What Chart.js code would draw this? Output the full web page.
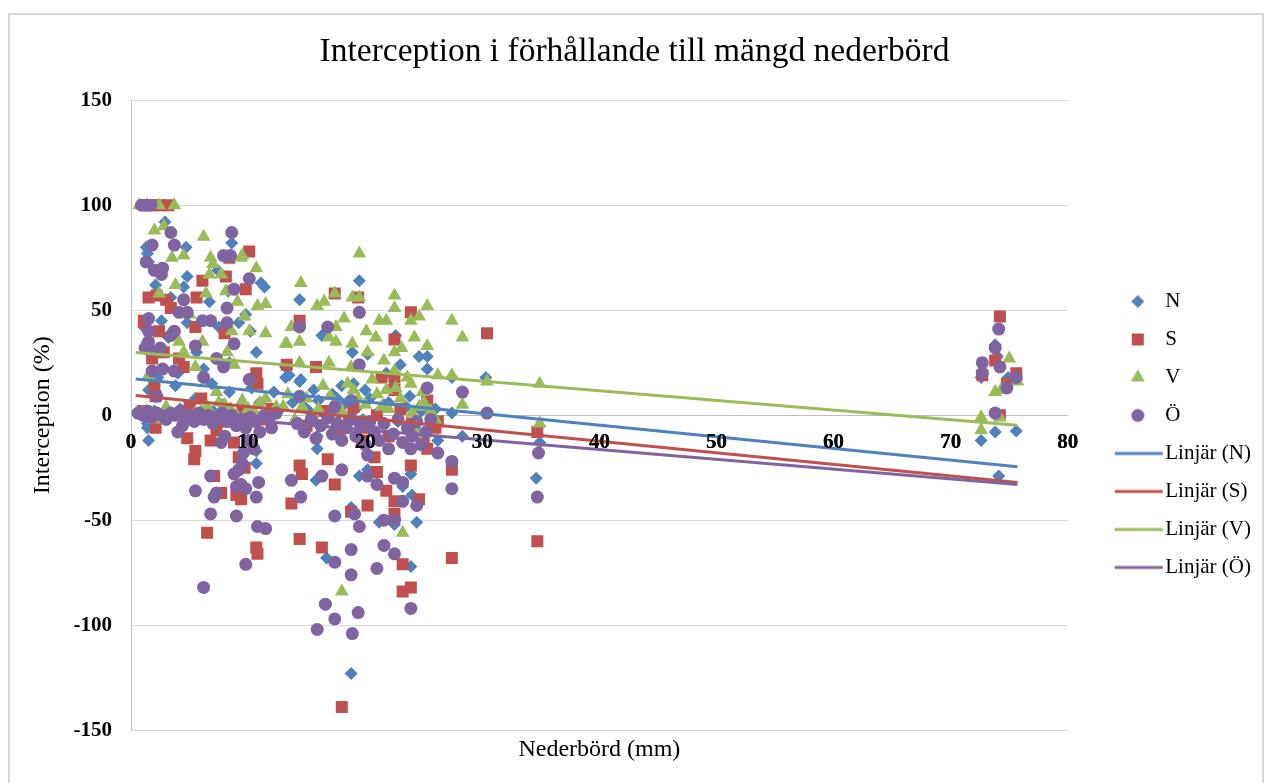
<!DOCTYPE html>
<html>
<head>
<meta charset="utf-8">
<title>Interception</title>
<script src="https://cdn.jsdelivr.net/npm/chart.js@4.4.1/dist/chart.umd.min.js"></script>
<style>
  body { margin:0; background:#fff; }
  #frame { position:absolute; left:8px; top:13px; width:1252px; height:800px; border:2px solid #d9d9d9; }
  #wrap { position:absolute; left:0; top:0; width:1268px; height:783px; }
</style>
</head>
<body>
<div id="frame"></div>
<div id="wrap"><canvas id="chart"></canvas></div>
<script>
// N
var nX = [1.2,2.9,1.3,1.4,1.5,2.1,4.7,4.8,4.5,3.4,8.6,8.5,7.4,11.4,11.1,8.3,6.7,9.8,9.2,7.5,4.8,1.1,2.6,10.2,10.7,5.6,3.2,1.4,2.7,13.2,13.2,8.4,6.2,4.0,2.3,3.8,1.5,6.9,8.4,10.3,12.2,5.5,7.8,9.6,11,12.6,1.4,1.5,1.4,10.7,10.7,14.4,
  19.5,14.4,14.4,16.3,18,18.9,20.2,22.6,24.6,25.3,25.3,27.4,27.4,30.3,28.3,26.2,34.9,15.9,15.9,15.8,19.5,18.8,20.2,23.2,23.9,24,24.4,21.2,22.5,16.7,23.9,18.8,34.6,13.5,14.5,
  2.0,3.0,4.2,6.0,7.0,8.8,9.9,11.8,14.8,16.0,17.2,18.2,19.2,20.4,21.2,22.0,22.8,23.5,24.2,25.0,26.0,20.0,21.8,23.0,
  15.2,16.6,17.8,19.8,21.6,23.8,24.8,25.6,13.8,15.6,17.6,19.0,22.4,
  73.8,74,72.6,74.9,72.6,73.8,75.6,74.1];
var nY = [100,92,80,77,73,62,80,66,61,56,82,76,69,61,63,59,54,48,44,42,44,42,45,40,30,30,37,35,30,23,18,25,22,20,18,14,12,15,11,13,11,8,5,3,6,2,-4,-12,-6,-17,-23,-4,
  64,55,16,38,14,30,29,38,28,28,22,18,1,18,-10,-12,-13,-16,-10,-31,-29,-44,-26,-34,-28,-38,-51,-51,-52,-68,-72,-123,-30,19,17,
  2,0,3,-1,2,-2,-4,1,4,7,10,5,3,8,2,6,-3,4,-6,-8,3,12,20,24,
  2,-3,1,-2,5,9,2,-4,6,12,8,15,14,
  33.5,28,18,18,-12,-8,-7.5,-29];
// S
var sX = [2.5,3.2,1.8,10.1,6.1,8.4,8.1,9.8,1.5,2.2,5.6,3.4,1.1,8.0,5.5,4.1,1.8,4.5,10.7,10.8,2.0,2.1,6.0,1.2,2.8,3.0,2.4,
  2.1,4.8,5.5,5.4,6.8,7.1,7.7,9.4,9.0,8.8,9.2,9.7,6.5,10.7,10.8,14.4,14.6,13.7,14.4,7.3,
  17.4,14.4,19.4,23.9,22.5,30.4,13.3,15.8,21.4,22.5,18.6,26.2,34.7,22.5,25.3,
  16.8,17.4,20.2,18.8,21,21.8,22.5,22.5,23.9,24.6,25.3,16.3,23.2,23.9,23.2,18,27.4,27.4,34.7,
  1.0,3.5,5.0,6.5,8.0,9.5,11.0,12.0,15.0,16.5,17.8,19.0,20.0,21.0,22.0,23.0,24.0,25.0,26.0,19.7,20.8,
  74.2,73.8,72.7,75.6,74.8,74.2];
var sY = [100,100,100,78,64,75,66,60,56,57,56,51,45,39,42,27,27,23,20,15,14,9,8,44,30,55,40,
  -6,-11,-17,-21,-12,-29,-37,-40,-38,-13,-20,-25,-56,-63,-66,-24,-28,-42,-59,-7,
  58,45,56,49,36,39,24,23,18,18,-1,-3,-8,12,7,
  -21,-33,-43,-46,-27,-36,-41,-47,-24,-40,-16,-63,-71,-82,-84,-139,-26,-68,-60,
  2,0,4,1,-3,2,-2,3,-5,2,-8,4,-6,0,-10,3,-4,-12,-6,-12,-20,
  47,26,19,20,15,0];
// V
var vX = [0.7,1.4,2.4,3.7,2,2.8,6.2,3.5,4.5,6.8,6.7,7.7,9.4,10.7,8.1,6.4,9.1,10.8,11.5,3.8,2.4,9.7,10.1,8.6,11.5,6.1,4.1,4.5,13.2,8.2,5.5,8.8,7.3,1.5,5.0,9.5,7.0,
  19.5,14.5,17.4,18.9,19.5,15.9,16.5,18.2,17.5,13.7,14.4,13.3,16.9,17.5,18.9,20.1,20.9,21.2,21.8,20.2,21.6,16.9,14.4,18.8,22.5,22.5,25.3,24.6,23.9,27.4,28.3,24.2,25.3,23.1,22.5,22.5,26.2,27.4,30.4,34.9,23.9,21.8,24.9,28.3,34.9,
  1.0,2.0,3.0,4.0,5.2,6.0,7.0,8.0,9.0,10.0,11.0,12.0,13.0,14.0,15.0,16.0,17.0,18.0,19.0,20.0,21.0,22.0,23.0,24.0,25.0,26.0,18.5,20.6,16.4,
  14.6,15.6,17.4,19.4,21.4,22.6,23.6,24.6,25.6,13.4,12.4,11.5,10.5,9.5,8.5,7.5,6.5,5.5,
  18,23.2,24.4,
  75,73.8,74.3,72.6,72.6,74.2,75.7];
var vY = [100,100,100,100,88,90,85,75,76,75,67,67,75,70,59,58,54,52,53,62,58,47,40,40,39,35,35,30,34,30,23,24,11,19,48,76,72,
  77,63,58,56,56,52,54,46,42,42,35,34,37,35,34,40,37,45,45,30,26,25,25,23,57,51,52,47,45,45,37,37,33,32,30,21,19,19,16,15,15,12,11,5,-4,
  1,-2,4,0,-3,2,-1,5,0,3,6,0,4,-2,8,3,9,2,12,5,10,3,8,1,6,-2,15,17,14,
  4,-1,6,8,4,13,18,4,2,10,4,8,2,7,3,6,4,1,
  -84,-56,-9,
  27,11,12,-1,-7,-1,16];
// Ö
var oX = [0.9,1.3,1.7,3.4,8.6,1.8,3.7,1.3,2.0,2.7,2.6,7.9,8.5,8.8,10.1,4.5,4.1,4.8,8.2,6.1,6.8,8.2,1.5,1.5,3.7,3.4,1.5,5.5,8.8,7.3,7.9,10.1,6.2,1.8,2.7,3.7,2.2,1.6,2.5,1.2,
  14.4,16.8,19.5,19.5,25.3,28.3,30.4,34.8,14.4,18.8,17.4,
  4.4,7.7,9.5,9.2,8.8,6.8,5.5,7.1,7.3,9.0,9.4,9.8,10.9,10.7,6.8,9.0,10.8,11.5,9.8,6.2,13.7,14.5,
  16.3,18,17.4,19.1,19.5,20.2,20.2,21,22.5,23.2,23.2,24.4,21.6,22.5,21.6,22.5,21,23.9,17.4,18.8,18.8,16.6,17.4,15.9,18.9,19.4,27.4,27.4,26.2,34.7,23.9,
  0.6,1.0,1.4,1.8,2.2,2.6,3.0,3.4,3.8,4.2,4.6,5.0,5.4,5.8,6.2,6.6,7.0,7.4,7.8,8.2,8.6,9.0,9.4,9.8,10.2,10.6,11.0,11.4,11.8,12.4,
  14.2,14.8,15.4,15.8,16.2,16.8,17.2,17.6,18.0,18.4,18.8,19.2,19.6,20.0,20.4,20.8,21.2,21.6,22.0,22.4,22.8,23.2,23.6,24.0,24.4,24.8,25.2,25.6,4.0,8.0,10.0,12.0,10.5,9.6,
  74.1,73.8,72.7,72.7,74.2,74.8,75.6,73.8];
var oY = [100,100,100,87,87,81,81,73,69,70,67,76,76,60,65,55,49,49,51,45,45,44,46,40,40,38,35,33,34,27,23,17,18,21,22,21,9,31,32,32,
  42,42,49,24,13,11,1,-18,9,7,4,
  -5,-13,-23,-26,-28,-29,-36,-39,-37,-34,-33,-35,-32,-39,-47,-48,-53,-54,-71,-82,-31,-39,
  -29,-26,-48,-47,-53,-19,-29,-33,-30,-32,-41,-43,-50,-50,-62,-66,-73,-92,-70,-64,-76,-90,-97,-102,-104,-94,-22,-35,-18,-39,-16,
  1,0,2,-1,1,0,-2,1,0,2,-1,0,-3,1,-2,0,-4,-1,1,-3,0,-5,-2,-6,-1,-3,-8,0,-2,1,
  -4,-8,-2,-11,-5,-1,-9,-4,-12,-6,-2,-10,-5,-14,-3,-8,-12,-4,-16,-9,-2,-13,-6,-10,-3,-14,-8,-2,-8,-10,-12,-6,-16,-18,
  41,32,25,20,23,13,18,1];

// trendlines (Linjär), ends
var trendX = [0.4, 75.7];
var trendN = [17.2, -24.5];
var trendS = [9.4, -32];
var trendV = [29.9, -4.8];
var trendO = [2.1, -33];

var seriesNames = ['N', 'S', 'V', 'Ö'];
var colors = ['#4F81BD', '#C0504D', '#9BBB59', '#8064A2'];
var styles = ['rectRot', 'rect', 'triangle', 'circle'];
var radii = [6.5, 8.5, 8, 6.5];

function pts(xs, ys) { return xs.map(function(x, i) { return {x: x, y: ys[i]}; }); }

function drawMarker(ctx, style, x, y, r) {
  ctx.beginPath();
  if (style === 'rectRot') {
    ctx.moveTo(x, y - r); ctx.lineTo(x + r, y); ctx.lineTo(x, y + r); ctx.lineTo(x - r, y);
  } else if (style === 'rect') {
    var s = r * Math.SQRT1_2; ctx.rect(x - s, y - s, 2 * s, 2 * s);
  } else if (style === 'triangle') {
    ctx.moveTo(x, y - r); ctx.lineTo(x + r * 0.866, y + r / 2); ctx.lineTo(x - r * 0.866, y + r / 2);
  } else {
    ctx.arc(x, y, r, 0, Math.PI * 2);
  }
  ctx.closePath(); ctx.fill();
}

// legend pictures, 96 wide, drawn centred on the legend box
function legendImg(i, isLine) {
  var c = document.createElement('canvas'); c.width = 96; c.height = 20;
  var g = c.getContext('2d');
  g.fillStyle = colors[i]; g.strokeStyle = colors[i];
  if (isLine) { g.lineWidth = 3; g.beginPath(); g.moveTo(43, 10); g.lineTo(91, 10); g.stroke(); }
  else drawMarker(g, styles[i], 66, 10, radii[i]);
  return c;
}
var legendImgs = [0,1,2,3].map(function(i){ return legendImg(i, false); })
  .concat([0,1,2,3].map(function(i){ return legendImg(i, true); }));

var serif = "'Liberation Serif', 'Times New Roman', serif";
var datasets = [];
[[nX,nY],[sX,sY],[vX,vY],[oX,oY]].forEach(function(d, i) {
  datasets.push({ label: seriesNames[i], data: pts(d[0], d[1]), backgroundColor: colors[i], borderWidth: 0,
    pointStyle: styles[i], pointRadius: radii[i], pointHoverRadius: radii[i], order: 8 - i });
});
[trendN, trendS, trendV, trendO].forEach(function(t, i) {
  datasets.push({ label: 'Linjär (' + seriesNames[i] + ')', data: pts(trendX, t), showLine: true, borderColor: colors[i],
    backgroundColor: colors[i], borderWidth: 3, pointRadius: 0, fill: false, order: 4 - i });
});

// x labels sit on the zero line, drawn over the markers like in the original
var labelsOnTop = {
  id: 'labelsOnTop',
  afterDatasetsDraw: function(chart) { chart.scales.x.drawLabels(chart.chartArea); }
};

new Chart(document.getElementById('chart'), {
  type: 'scatter',
  data: { datasets: datasets },
  plugins: [labelsOnTop],
  options: {
    responsive: true, maintainAspectRatio: false, animation: false,
    layout: { padding: { top: 13, left: 8, right: 7, bottom: 16 } },
    scales: {
      x: {
        type: 'linear', min: 0, max: 80, position: { y: 0 },
        grid: { display: false },
        border: { display: true, color: '#bfbfbf', width: 1 },
        ticks: { stepSize: 10, padding: 7, color: '#000', font: { family: serif, size: 21, weight: 'bold' } }
      },
      y: {
        min: -150, max: 150,
        afterFit: function(scale) { scale.width = 123; },
        grid: { color: '#d9d9d9', drawTicks: false },
        border: { display: true, color: '#bfbfbf', width: 1 },
        ticks: { stepSize: 50, padding: 19, color: '#000', font: { family: serif, size: 21, weight: 'bold' } },
        title: { display: true, text: 'Interception (%)', color: '#000', padding: { top: 20, bottom: 0 }, font: { family: serif, size: 24 } }
      }
    },
    plugins: {
      title: { display: true, text: 'Interception i förhållande till mängd nederbörd', color: '#000',
        padding: { top: 19, bottom: 28 }, font: { family: serif, size: 33.5, weight: 'normal' } },
      subtitle: { display: true, position: 'bottom', fullSize: false, text: 'Nederbörd (mm)', color: '#000',
        padding: { top: 5, bottom: 3 }, font: { family: serif, size: 24 } },
      legend: {
        position: 'right',
        title: { display: true, text: ' ', padding: 38.5, font: { size: 10 } },
        labels: {
          usePointStyle: true, pointStyleWidth: 70, boxHeight: 21, padding: 17, color: '#000',
          font: { family: serif, size: 21 },
          sort: function(a, b) { return a.datasetIndex - b.datasetIndex; },
          generateLabels: function(chart) {
            var items = Chart.defaults.plugins.legend.labels.generateLabels(chart);
            items.forEach(function(it) { it.pointStyle = legendImgs[it.datasetIndex]; });
            return items;
          }
        }
      },
      tooltip: { enabled: false }
    }
  }
});
</script>
</body>
</html>
